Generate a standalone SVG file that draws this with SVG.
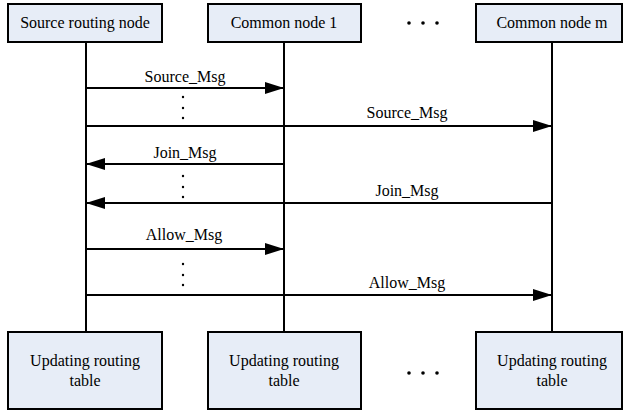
<svg xmlns="http://www.w3.org/2000/svg" width="626" height="412" viewBox="0 0 626 412">
<style>
.box{fill:#E7EDF7;stroke:#000;stroke-width:2}
.t{font-family:'Liberation Serif','DejaVu Serif',serif;font-size:16px;fill:#000;text-anchor:middle}
.m{font-family:'Liberation Serif','DejaVu Serif',serif;font-size:16px;fill:#000;text-anchor:middle}
.life{stroke:#000;stroke-width:2;fill:none}
.msg{stroke:#000;stroke-width:2;fill:none}
.dot{fill:#000}
</style>
<defs>
<marker id="ah" viewBox="0 0 19 12" refX="19" refY="6" markerWidth="19" markerHeight="12" markerUnits="userSpaceOnUse" orient="auto">
<path d="M0,0 L19,6 L0,12 Z" fill="#000"/>
</marker>
</defs>
<g id="connectors">
<line class="life" x1="86" y1="42" x2="86" y2="332"/>
<line class="life" x1="284" y1="42" x2="284" y2="332"/>
<line class="life" x1="552" y1="42" x2="552" y2="332"/>
<line class="msg" x1="86" y1="88" x2="284" y2="88" marker-end="url(#ah)"/>
<text class="m" x="185" y="82">Source_Msg</text>
<line class="msg" x1="86" y1="126" x2="552" y2="126" marker-end="url(#ah)"/>
<text class="m" x="407" y="118">Source_Msg</text>
<line class="msg" x1="284" y1="164" x2="86" y2="164" marker-end="url(#ah)"/>
<text class="m" x="185" y="158">Join_Msg</text>
<line class="msg" x1="552" y1="203" x2="86" y2="203" marker-end="url(#ah)"/>
<text class="m" x="407" y="196">Join_Msg</text>
<line class="msg" x1="86" y1="249" x2="284" y2="249" marker-end="url(#ah)"/>
<text class="m" x="184" y="240">Allow_Msg</text>
<line class="msg" x1="86" y1="295" x2="552" y2="295" marker-end="url(#ah)"/>
<text class="m" x="407" y="288">Allow_Msg</text>
<circle class="dot" cx="183" cy="97" r="1.2"/><circle class="dot" cx="183" cy="108" r="1.2"/><circle class="dot" cx="183" cy="118" r="1.2"/>
<circle class="dot" cx="183" cy="176" r="1.2"/><circle class="dot" cx="183" cy="187" r="1.2"/><circle class="dot" cx="183" cy="197" r="1.2"/>
<circle class="dot" cx="183" cy="264" r="1.2"/><circle class="dot" cx="183" cy="275" r="1.2"/><circle class="dot" cx="183" cy="285" r="1.2"/>
</g>
<g id="source">
<rect class="box" x="8" y="4" width="154" height="38"/>
<text class="t" x="85" y="28">Source routing node</text>
</g>
<g id="common1">
<rect class="box" x="208" y="4" width="153" height="38"/>
<text class="t" x="284" y="28">Common node 1</text>
</g>
<g id="ellipsis-top">
<circle class="dot" cx="409" cy="23" r="1.8"/><circle class="dot" cx="423" cy="23" r="1.8"/><circle class="dot" cx="437" cy="23" r="1.8"/>
</g>
<g id="commonm">
<rect class="box" x="476" y="4" width="146" height="38"/>
<text class="t" x="552" y="28">Common node m</text>
</g>
<g id="update1">
<rect class="box" x="8" y="332" width="154" height="77"/>
<text class="t" x="85" y="366">Updating routing</text>
<text class="t" x="85" y="386">table</text>
</g>
<g id="update2">
<rect class="box" x="208" y="332" width="153" height="77"/>
<text class="t" x="284" y="366">Updating routing</text>
<text class="t" x="284" y="386">table</text>
</g>
<g id="ellipsis-bottom">
<circle class="dot" cx="409" cy="373" r="1.8"/><circle class="dot" cx="423" cy="373" r="1.8"/><circle class="dot" cx="437" cy="373" r="1.8"/>
</g>
<g id="updatem">
<rect class="box" x="476" y="332" width="146" height="77"/>
<text class="t" x="552" y="366">Updating routing</text>
<text class="t" x="552" y="386">table</text>
</g>
</svg>
